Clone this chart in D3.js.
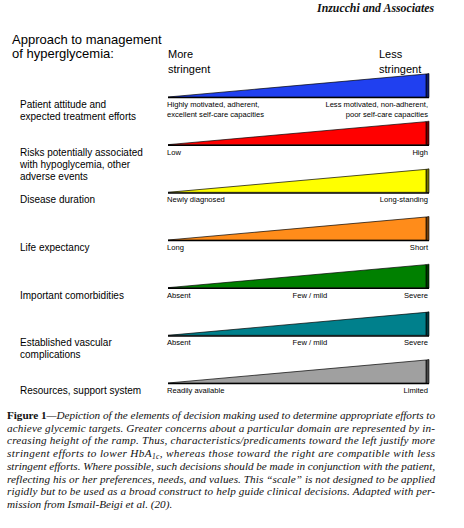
<!DOCTYPE html>
<html>
<head>
<meta charset="utf-8">
<script src="https://cdn.jsdelivr.net/npm/d3@7"></script>
<style>
  html, body { margin: 0; padding: 0; background: #fff; }
  svg { display: block; }
</style>
</head>
<body>
<div id="chart"></div>
<script>
// ---- data ----
const categories = [
  "Patient attitude and\nexpected treatment efforts",
  "Risks potentially associated\nwith hypoglycemia, other\nadverse events",
  "Disease duration",
  "Life expectancy",
  "Important comorbidities",
  "Established vascular\ncomplications",
  "Resources, support system"
];
const rampColors = ["#2040f0", "#ff0000", "#ffff00", "#ff8c1a", "#008000", "#00808c", "#a0a0a0"];
const leftAnchors = [
  "Highly motivated, adherent,\nexcellent self-care capacities",
  "Low", "Newly diagnosed", "Long", "Absent", "Absent", "Readily available"
];
const midAnchors = ["", "", "", "", "Few / mild", "Few / mild", ""];
const rightAnchors = [
  "Less motivated, non-adherent,\npoor self-care capacities",
  "High", "Long-standing", "Short", "Severe", "Severe", "Limited"
];
const concernLevels = [0, 1];          // ramp rises from no concern (left) to high concern (right)
const midAnchorPosition = 0.55;        // where "Few / mild" sits along the ramp
const stringencyLabels = ["More\nstringent", "Less\nstringent"];
const titleLines = ["Approach to management", "of hyperglycemia:"];
const headerText = "Inzucchi and Associates";
const captionLines = [
  [{b:"Figure 1"}, {i:"\u2014Depiction of the elements of decision making used to determine appropriate efforts to"}],
  [{i:"achieve glycemic targets. Greater concerns about a particular domain are represented by in-"}],
  [{i:"creasing height of the ramp. Thus, characteristics/predicaments toward the left justify more"}],
  [{i:"stringent efforts to lower HbA"}, {sub:"1c"}, {i:", whereas those toward the right are compatible with less"}],
  [{i:"stringent efforts. Where possible, such decisions should be made in conjunction with the patient,"}],
  [{i:"reflecting his or her preferences, needs, and values. This \u201cscale\u201d is not designed to be applied"}],
  [{i:"rigidly but to be used as a broad construct to help guide clinical decisions. Adapted with per-"}],
  [{i:"mission from Ismail-Beigi et al. (20)."}]
];

// ---- drawing ----
const W = 464, H = 528;
const sans = "Liberation Sans, Arial, sans-serif";
const serif = "Liberation Serif, Times New Roman, serif";

const svg = d3.select("#chart").append("svg").attr("width", W).attr("height", H);
svg.append("rect").attr("width", W).attr("height", H).attr("fill", "#fff");

const x = d3.scaleLinear().domain(d3.extent(concernLevels)).range([168, 426]);
const h = d3.scaleLinear().domain(d3.extent(concernLevels)).range([0, 23]);
const rowY = d3.scalePoint().domain(categories).range([97, 383]);
const faceW = 3;

// header
svg.append("text").attr("x", 434).attr("y", 12).attr("text-anchor", "end")
  .attr("font-family", serif).attr("font-style", "italic").attr("font-weight", "bold")
  .attr("font-size", 11.8).attr("fill", "#111").text(headerText);

// title
svg.append("g").selectAll("text").data(titleLines).join("text")
  .attr("x", 12).attr("y", (d, i) => 43.5 + i * 14)
  .attr("font-family", sans).attr("font-size", 13).attr("fill", "#000").text(d => d);

// stringency labels
stringencyLabels.forEach((lab, k) => {
  const t = svg.append("text").attr("font-family", sans).attr("font-size", 11).attr("fill", "#000");
  lab.split("\n").forEach((ln, j) => {
    t.append("tspan").attr("x", k === 0 ? x(0) : 379).attr("y", 58 + j * 14.5).text(ln);
  });
});

const rows = svg.append("g").selectAll("g.row").data(categories).join("g").attr("class", "row");

rows.each(function(cat, i) {
  const g = d3.select(this);
  const yb = rowY(cat);
  const col = d3.color(rampColors[i]);
  const dark = col.darker(2.2);
  const pts = [[x(0), yb - h(0)], [x(1), yb - h(1)], [x(1), yb]];
  // right face (3D side)
  g.append("path")
    .attr("d", d3.line()([[x(1), yb - h(1)], [x(1) + faceW, yb - h(1) - 0.5], [x(1) + faceW, yb + 0.5], [x(1), yb]]) + "Z")
    .attr("fill", dark).attr("stroke", "#000").attr("stroke-width", 0.6);
  // bottom shadow line
  g.append("line").attr("x1", x(0)).attr("x2", x(1) + faceW).attr("y1", yb + 0.6).attr("y2", yb + 0.6)
    .attr("stroke", "#000").attr("stroke-width", 1.4);
  // ramp front
  g.append("path").attr("d", d3.line()(pts) + "Z")
    .attr("fill", col.formatHex()).attr("stroke", "#000").attr("stroke-width", 0.7)
    .attr("stroke-linejoin", "round");

  // category label
  const t = g.append("text").attr("font-family", sans).attr("font-size", 10).attr("fill", "#000");
  cat.split("\n").forEach((ln, j) => {
    t.append("tspan").attr("x", 20).attr("y", yb + 11 + j * 12).text(ln);
  });

  // anchors
  const anchor = (txt, xx, anchorPos) => {
    if (!txt) return;
    const a = g.append("text").attr("font-family", sans).attr("font-size", 7.6).attr("fill", "#000")
      .attr("text-anchor", anchorPos);
    txt.split("\n").forEach((ln, j) => {
      a.append("tspan").attr("x", xx).attr("y", yb + 10 + j * 9.5).text(ln);
    });
  };
  anchor(leftAnchors[i], x(0) - 1, "start");
  anchor(midAnchors[i], x(midAnchorPosition), "middle");
  anchor(rightAnchors[i], x(1) + 2, "end");
});

// caption
const capX = 7, capW = 428, capY0 = 419, capDy = 12.7;
captionLines.forEach((parts, i) => {
  const t = svg.append("text").attr("x", capX).attr("y", capY0 + i * capDy)
    .attr("font-family", serif).attr("font-size", 11.2).attr("fill", "#111");
  if (i < captionLines.length - 1) t.attr("textLength", capW).attr("lengthAdjust", "spacing");
  parts.forEach(p => {
    if (p.b) t.append("tspan").attr("font-weight", "bold").text(p.b);
    else if (p.sub) t.append("tspan").attr("font-style", "italic").attr("font-size", 7.5)
      .attr("baseline-shift", "-25%").text(p.sub);
    else t.append("tspan").attr("font-style", "italic").text(p.i);
  });
});
</script>
</body>
</html>
